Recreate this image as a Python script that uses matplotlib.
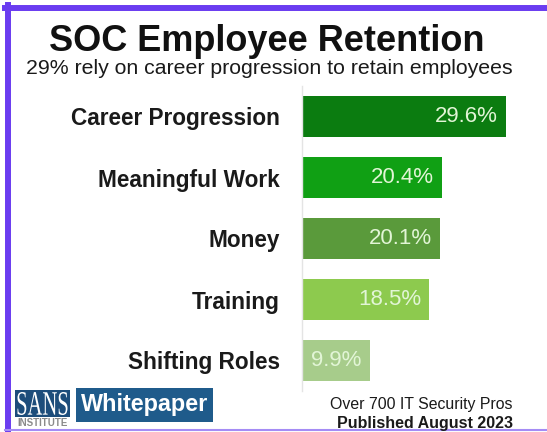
import matplotlib.pyplot as plt
from matplotlib.patches import Rectangle, PathPatch
from matplotlib.lines import Line2D
from matplotlib.textpath import TextPath
from matplotlib.font_manager import FontProperties
from matplotlib.transforms import Affine2D

plt.rcParams['font.family'] = ['Liberation Sans', 'DejaVu Sans']

# data
categories = ['Career Progression', 'Meaningful Work', 'Money', 'Training', 'Shifting Roles']
values = [29.6, 20.4, 20.1, 18.5, 9.9]
bar_colors = ['#0b7c10', '#10a014', '#5a9a3b', '#8dca4e', '#a7cc8b']

W, H = 547, 432


def fx(px):
    return px / W


def fy(py):
    return 1 - py / H


fig = plt.figure(figsize=(W / 100, H / 100), dpi=100)
ax = fig.add_axes([fx(302), fy(391), fx(241), 305 / H])

ypos = list(range(len(categories)))
ax.barh(ypos, values, height=0.67, color=bar_colors)
ax.set_ylim(len(categories) - 0.5, -0.5)
ax.set_xlim(0, 35)
ax.set_yticks(ypos)
ax.set_yticklabels(categories, fontsize=16.3, fontweight='bold', color='#1a1a1a')
ax.set_xticks([])
ax.tick_params(axis='y', length=0, pad=16)
for s in ['top', 'right', 'bottom']:
    ax.spines[s].set_visible(False)
ax.spines['left'].set_color('#e4e4e4')
ax.spines['left'].set_linewidth(1)

for y, v in zip(ypos, values):
    ax.annotate(f'{v}%', xy=(v, y), xytext=(-6, 0), textcoords='offset points',
                ha='right', va='center', fontsize=16, color='#e2f5d6')

# titles
fig.text(fx(267), fy(51), 'SOC Employee Retention', ha='center', va='baseline',
         fontsize=26, fontweight='bold', color='#111111')
fig.text(fx(269), fy(74), '29% rely on career progression to retain employees',
         ha='center', va='baseline', fontsize=15.3, color='#1a1a1a')

# footer
fig.text(fx(513), fy(409.5), 'Over 700 IT Security Pros', ha='right', va='baseline',
         fontsize=11.4, color='#1a1a1a')
fig.text(fx(513), fy(428), 'Published August 2023', ha='right', va='baseline',
         fontsize=11.5, fontweight='bold', color='#1a1a1a')

# SANS logo
fig.patches.append(Rectangle((fx(15), fy(417)), fx(55), 27 / H, transform=fig.transFigure,
                             facecolor='#1d4d7b', edgecolor='none'))
tp = TextPath((0, 0), 'SANS', size=20, prop=FontProperties(family='Liberation Serif'))
bb = tp.get_extents()
tr = Affine2D().translate(-bb.x0, -bb.y0).scale(50 / bb.width, 23 / bb.height).translate(17.5, H - 415)
fig.patches.append(PathPatch(tp, transform=tr, facecolor='white', edgecolor='none'))
fig.text(fx(42.5), fy(423), 'INSTITUTE', ha='center', va='center', fontsize=7,
         fontweight='bold', color='#8a8a8a')
fig.patches.append(Rectangle((fx(76), fy(422)), fx(137), 34 / H, transform=fig.transFigure,
                             facecolor='#1f5b8b', edgecolor='none'))
fig.text(fx(145), fy(405), 'Whitepaper', ha='center', va='center', fontsize=16.8,
         fontweight='bold', color='white')

# frame
fig.lines.append(Line2D([fx(5), fx(560)], [fy(8), fy(8)], transform=fig.transFigure,
                        color='#6a3cf0', linewidth=4.3))
fig.lines.append(Line2D([fx(8), fx(8)], [fy(5), fy(440)], transform=fig.transFigure,
                        color='#6a3cf0', linewidth=4.3))
fig.lines.append(Line2D([fx(5), fx(560)], [fy(430), fy(430)], transform=fig.transFigure,
                        color='#a58cf5', linewidth=1.5))

fig.savefig('out.png', dpi=100)
